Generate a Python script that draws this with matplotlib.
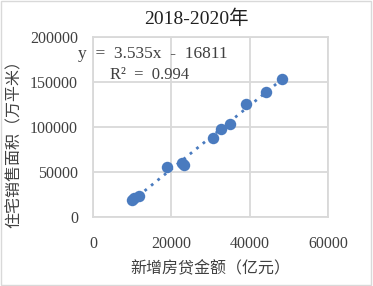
import numpy as np
import matplotlib.pyplot as plt
from matplotlib.patches import Rectangle

# 新增房贷金额（亿元） vs 住宅销售面积（万平米）
loans = [9820, 10400, 11690, 18930, 22600, 23200, 30690, 32580, 34960, 39050, 44090, 48260]
area = [18600, 20800, 23400, 55700, 59500, 57600, 88100, 97400, 103000, 126000, 139000, 153800]

x_ticks = [0, 20000, 40000, 60000]
y_ticks = [0, 50000, 100000, 150000, 200000]

fonts = ['Liberation Serif', 'Noto Sans CJK SC']
plt.rcParams['font.family'] = fonts
blue = '#4a7bbf'
grid = '#d9d9d9'

fig = plt.figure(figsize=(3.73, 2.86), dpi=100)
ax = fig.add_axes([0.250, 0.242, 0.629, 0.628])

# trend line
k, b = np.polyfit(loans, area, 1)
xs = np.array([min(loans), max(loans)])
ax.plot(xs, k * xs + b, color=blue, lw=2, linestyle=(0, (1, 2)), zorder=2)
ax.scatter(loans, area, s=68, color=blue, zorder=3, linewidths=0)

ax.set_xlim(0, 60000)
ax.set_ylim(0, 200000)
ax.set_xticks(x_ticks)
ax.set_yticks(y_ticks)
ax.grid(True, color=grid, lw=1.3)
ax.set_axisbelow(True)
for s in ax.spines.values():
    s.set_color(grid)
    s.set_linewidth(1.3)
ax.tick_params(length=0, labelsize=11.5, colors='#404040')
ax.tick_params(axis='y', pad=11)
ax.tick_params(axis='x', pad=14)

ax.set_xlabel('新增房贷金额（亿元）', fontsize=11.5, color='#404040', labelpad=6,
              family=['Noto Sans CJK SC'])
ax.set_ylabel('住宅销售面积（万平米）', fontsize=11.5, color='#404040',
              family=['Noto Sans CJK SC'])
ax.yaxis.set_label_coords(-0.30, 0.43)

fig.text(0.527, 0.935, '2018-2020年', ha='center', va='center', fontsize=14,
         color='#202020')

ax.text(-0.065, 0.905, 'y  =  3.535x  -  16811', transform=ax.transAxes, fontsize=12.5,
        color='#404040', va='center', ha='left', clip_on=False)
ax.text(0.07, 0.79, 'R²  =  0.994', transform=ax.transAxes, fontsize=12,
        color='#404040', va='center', ha='left')

fig.patches.append(Rectangle((0.004, 0.005), 0.99, 0.99, transform=fig.transFigure,
                             fill=False, edgecolor=grid, lw=1))

fig.savefig('out.png', dpi=100)
